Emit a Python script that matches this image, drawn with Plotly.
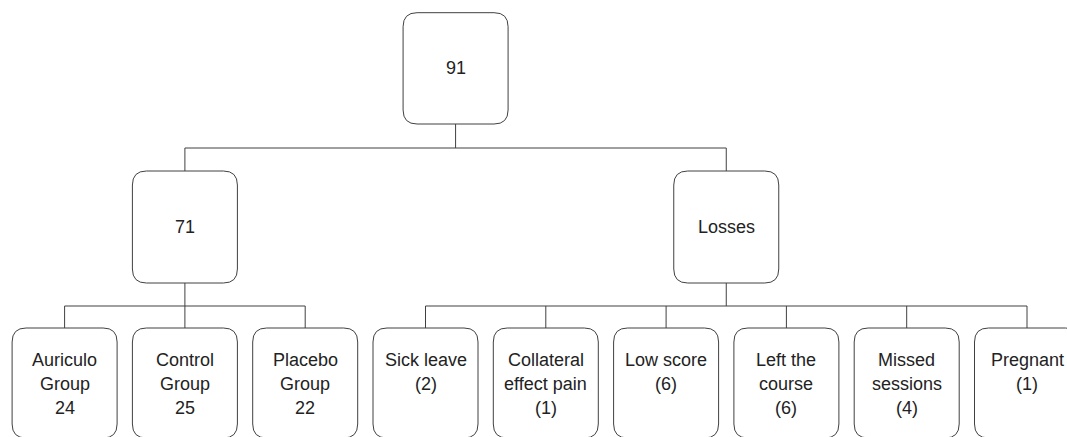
import plotly.graph_objects as go

# ---- data ----
root_label = ["91"]
level1_labels = ["71", "Losses"]
group_labels = [["Auriculo", "Group", "24"],
                ["Control", "Group", "25"],
                ["Placebo", "Group", "22"]]
loss_labels = [["Sick leave", "(2)"],
               ["Collateral", "effect pain", "(1)"],
               ["Low score", "(6)"],
               ["Left the", "course", "(6)"],
               ["Missed", "sessions", "(4)"],
               ["Pregnant", "(1)"]]

# ---- layout parameters ----
W, H = 1067, 437
leaf_x0, leaf_pitch, box_w = 64.6, 120.3, 105
root_top, root_bot = 12.7, 124
bar1_y = 148
mid_top, mid_bot = 171, 283
bar2_y = 306
leaf_top, leaf_bot = 328, 438
radius = 14
line_col = "#404040"
text_col = "#222222"
font = dict(family="Arial, Liberation Sans, sans-serif", size=18, color=text_col)
line_gap = 24
first_line_off = 32

leaves = group_labels + loss_labels
leaf_cx = [leaf_x0 + i * leaf_pitch for i in range(len(leaves))]
n_g = len(group_labels)
group_cx = leaf_cx[:n_g]
loss_cx = leaf_cx[n_g:]
mid_cx = [sum(group_cx) / len(group_cx), sum(loss_cx) / len(loss_cx)]
root_cx = sum(mid_cx) / len(mid_cx)

shapes = []
annotations = []


def rbox(cx, y0, y1):
    x0, x1 = cx - box_w / 2, cx + box_w / 2
    r = radius
    p = (f"M {x0+r},{y0} L {x1-r},{y0} Q {x1},{y0} {x1},{y0+r} "
         f"L {x1},{y1-r} Q {x1},{y1} {x1-r},{y1} L {x0+r},{y1} "
         f"Q {x0},{y1} {x0},{y1-r} L {x0},{y0+r} Q {x0},{y0} {x0+r},{y0} Z")
    shapes.append(dict(type="path", path=p, xref="x", yref="y",
                       line=dict(color=line_col, width=1), fillcolor="white"))


def seg(x0, y0, x1, y1):
    shapes.append(dict(type="line", x0=x0, y0=y0, x1=x1, y1=y1, xref="x", yref="y",
                       line=dict(color=line_col, width=1)))


def label(cx, y, txt):
    annotations.append(dict(x=cx, y=y, xref="x", yref="y", text=txt, showarrow=False,
                            font=font, xanchor="center", yanchor="middle"))


# connectors
seg(root_cx, root_bot, root_cx, bar1_y)
seg(mid_cx[0], bar1_y, mid_cx[1], bar1_y)
for cx in mid_cx:
    seg(cx, bar1_y, cx, mid_top)
    seg(cx, mid_bot, cx, bar2_y)
for kids in (group_cx, loss_cx):
    seg(kids[0], bar2_y, kids[-1], bar2_y)
    for cx in kids:
        seg(cx, bar2_y, cx, leaf_top)

# boxes
rbox(root_cx, root_top, root_bot)
label(root_cx, (root_top + root_bot) / 2, root_label[0])
for cx, lab in zip(mid_cx, level1_labels):
    rbox(cx, mid_top, mid_bot)
    label(cx, (mid_top + mid_bot) / 2, lab)
for cx, lines in zip(leaf_cx, leaves):
    rbox(cx, leaf_top, leaf_bot)
    for k, ln in enumerate(lines):
        label(cx, leaf_top + first_line_off + k * line_gap, ln)

fig = go.Figure()
fig.update_layout(
    width=W, height=H, margin=dict(l=0, r=0, t=0, b=0),
    paper_bgcolor="white", plot_bgcolor="white",
    xaxis=dict(range=[0, W], visible=False, fixedrange=True),
    yaxis=dict(range=[H, 0], visible=False, fixedrange=True),
    shapes=shapes, annotations=annotations, showlegend=False,
)
fig.write_html(
    "out.html",
    config={"displayModeBar": False, "staticPlot": True},
    post_script="document.body.style.margin='0';document.body.style.overflow='hidden';",
)
